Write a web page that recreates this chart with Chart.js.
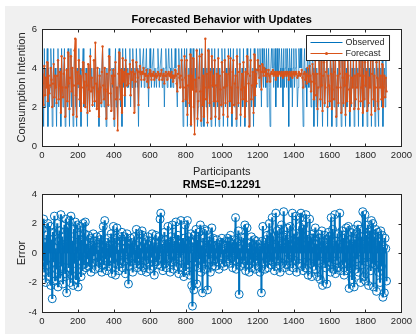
<!DOCTYPE html>
<html>
<head>
<meta charset="utf-8">
<script src="https://cdn.jsdelivr.net/npm/chart.js@4.4.1/dist/chart.umd.min.js"></script>
<style>
  html, body { margin: 0; padding: 0; background: #fff; }
  #page { position: relative; width: 416px; height: 334px; overflow: hidden; background: #fff; }
  #fig { position: absolute; left: 5px; top: 6px; right: 0; bottom: 0; background: #f0f0f0; }
  #page canvas { position: absolute; left: 0; }
  #topChart { top: 0; }
  #errChart { top: 176px; }
</style>
</head>
<body>
<div id="page">
  <div id="fig"></div>
  <canvas id="topChart" width="416" height="182"></canvas>
  <canvas id="errChart" width="416" height="158"></canvas>
</div>
<script>
// every 4th participant
const step = 4;

const observed = [
  4,3,1,5,2,4,3,5,1,4,2,3,5,4,1,3,5,2,4,3,
  1,4,5,2,3,4,1,5,3,2,4,5,1,3,4,2,5,3,1,4,
  5,2,4,1,3,5,4,2,1,4,3,5,2,4,1,3,4,5,2,3,
  2,4,3,1,4,3,2,5,3,4,2,3,4,2,5,3,2,4,3,1,
  4,3,2,4,5,3,2,4,3,1,4,3,2,5,4,3,2,4,3,4,
  1,4,5,2,3,1,4,5,3,2,4,1,5,3,4,2,5,4,3,4,
  3,4,5,2,4,3,5,4,2,4,3,5,4,3,1,4,5,4,3,4,
  4,5,3,4,4,5,3,4,2,4,5,4,3,4,4,5,3,4,4,3,
  4,5,4,3,4,4,5,3,4,4,2,4,5,4,3,4,5,4,4,3,
  5,4,3,4,4,5,4,3,2,4,5,4,3,4,5,4,1,3,5,4,
  2,5,1,3,4,2,5,1,4,3,5,2,1,4,3,5,1,2,4,5,
  3,1,5,2,4,1,3,5,2,4,1,5,3,2,4,1,5,3,4,2,
  5,1,3,4,2,5,1,4,3,2,5,4,1,3,5,2,4,3,1,5,
  4,2,5,3,1,4,5,2,3,4,1,5,3,2,4,5,1,3,4,2,
  5,3,1,4,2,5,4,3,1,4,5,2,3,4,1,5,2,4,3,4,
  5,4,3,5,4,2,5,4,3,5,4,3,5,2,4,5,3,1,4,5,
  4,5,3,4,5,2,4,5,3,4,5,4,3,5,4,2,5,3,4,5,
  3,5,4,1,5,4,3,5,2,4,5,3,4,5,4,2,3,5,4,5,
  4,5,3,1,4,5,3,4,2,5,4,3,5,4,2,3,5,4,1,3,
  5,2,4,1,3,5,4,2,5,3,1,4,5,2,3,4,5,1,4,3,
  2,5,4,1,3,5,2,4,5,1,3,4,2,5,4,3,1,5,4,2,
  5,3,1,4,2,5,4,3,1,5,2,4,3,5,1,4,2,5,3,4,
  1,5,4,2,3,5,1,4,2,5,3,4,1,5,2,4,3,5,1,4,
  5,2,4,1,3,5,4,2,1,5,3,4,2,5,1,3,4,2,5,3
];

const forecast = [
  3.7,3.2,2.1,4.1,2.6,3.5,3.0,4.3,2.3,3.6,2.7,3.1,4.0,3.4,2.0,3.2,4.2,2.5,3.6,3.0,
  2.2,3.6,4.4,2.4,3.1,3.8,1.7,4.6,3.0,2.5,3.7,4.5,1.5,3.0,3.9,2.3,4.8,3.2,1.9,3.5,
  4.6,2.8,4.0,1.6,3.1,4.9,5.5,2.6,1.5,3.8,3.2,4.4,2.4,3.6,1.8,3.0,3.9,4.3,2.2,3.3,
  2.0,3.7,3.1,1.7,4.2,2.9,1.8,4.6,2.8,3.5,2.1,3.0,4.4,2.3,5.3,3.2,1.9,4.0,2.8,1.5,
  3.6,3.0,2.2,3.8,5.1,3.1,2.4,4.0,2.9,1.4,3.7,2.8,2.1,4.6,3.9,2.7,1.8,3.6,3.2,3.9,
  1.4,3.6,4.3,2.4,3.0,0.8,3.7,4.8,3.2,2.4,3.9,1.7,4.5,3.3,3.8,2.6,4.4,3.9,3.1,3.7,
  3.2,3.7,4.2,2.6,3.8,3.4,4.4,3.8,1.7,3.7,3.3,4.3,3.9,3.5,2.1,3.8,4.1,3.7,3.4,3.8,
  3.7,4.0,3.4,3.7,3.6,3.9,3.3,3.6,3.0,3.7,3.9,3.6,3.4,3.7,3.6,3.8,3.4,3.6,3.7,3.5,
  3.6,3.8,3.7,3.4,3.6,3.7,3.9,3.4,3.6,3.7,3.2,3.6,3.8,3.6,3.4,3.7,3.8,3.6,3.7,3.5,
  3.8,3.6,3.3,3.6,3.5,3.9,3.6,3.2,2.8,3.7,4.1,3.5,3.0,3.6,4.4,3.4,2.3,3.0,4.6,3.5,
  2.4,4.4,1.6,3.1,3.6,2.2,4.7,1.1,3.6,2.9,4.5,2.0,0.6,3.4,2.8,4.9,1.4,2.3,3.5,4.6,
  2.8,1.3,4.7,2.1,3.6,1.5,3.0,5.5,2.4,3.7,1.2,4.9,3.0,2.2,3.8,1.4,4.6,3.1,3.6,2.3,
  4.4,1.5,3.1,3.7,2.3,4.5,1.4,3.6,2.9,2.1,4.3,3.8,1.6,3.0,4.4,2.2,3.7,3.1,1.5,4.6,
  3.7,2.3,4.5,3.0,1.7,3.8,4.4,2.1,3.2,3.6,1.4,4.6,3.0,2.2,3.8,4.2,1.6,2.9,3.7,2.4,
  4.3,3.0,1.5,3.8,2.3,4.6,3.7,3.2,1.0,3.6,4.4,2.4,3.1,3.8,1.7,4.7,2.6,3.7,3.2,3.9,
  4.4,3.9,3.5,4.1,3.8,2.9,4.2,3.8,3.6,4.0,3.8,3.6,3.9,3.3,3.7,3.9,3.6,3.3,3.7,3.8,
  3.7,3.9,3.6,3.7,3.8,3.4,3.7,3.8,3.6,3.7,3.8,3.7,3.6,3.8,3.7,3.5,3.8,3.6,3.7,3.8,
  3.6,3.8,3.7,3.4,3.8,3.7,3.6,3.8,3.5,3.7,3.8,3.6,3.7,3.8,3.7,3.5,3.6,3.8,3.7,3.6,
  3.7,3.9,3.5,3.0,3.7,3.8,3.4,3.7,3.2,4.0,3.6,3.3,4.1,3.6,2.8,3.3,4.2,3.7,2.4,3.2,
  4.4,2.6,3.7,1.9,3.0,4.5,3.7,2.4,4.6,3.1,1.8,3.6,4.3,2.2,3.0,3.8,4.5,2.0,3.6,3.1,
  2.3,4.6,3.7,1.9,2.9,4.4,2.4,3.8,4.7,1.5,3.0,3.6,2.2,4.4,3.7,3.0,1.7,4.6,3.5,2.2,
  4.5,3.1,1.6,3.7,2.3,4.4,3.6,2.9,1.8,4.6,2.2,3.5,3.0,4.4,1.9,3.6,2.4,4.5,3.0,3.7,
  1.9,4.5,3.6,2.3,3.0,4.7,1.7,3.6,2.4,4.3,3.1,3.8,1.8,4.6,2.2,3.5,3.0,4.4,1.6,3.7,
  4.4,2.4,3.6,1.8,3.0,4.3,3.5,2.3,1.9,4.5,3.0,3.6,2.4,4.2,2.0,3.0,3.6,2.5,3.5,2.8
];

const errors = [
  1.6,-0.5,2.3,-1.3,0.7,-2.0,1.2,-0.8,2.0,-1.6,0.4,1.8,-2.2,0.9,-3.1,1.4,-0.6,2.5,-1.9,0.3,
  -1.1,2.0,-2.3,0.8,1.5,-1.7,2.6,-0.9,1.1,-2.1,0.5,1.9,-1.4,2.3,-2.7,0.6,1.7,-1.0,2.2,-2.0,
  2.5,-1.5,0.8,-2.2,1.6,-0.7,2.1,-1.8,0.4,1.9,-2.3,1.2,-0.5,1.8,-1.6,0.9,-1.2,2.0,-0.8,1.3,
  2.1,-1.0,0.6,-0.4,1.2,-0.9,0.3,1.0,-1.3,0.5,-0.7,1.3,-0.2,0.8,-1.1,0.4,1.1,-0.6,0.2,-1.0,
  0.9,-0.5,1.2,-1.3,0.4,1.8,-0.8,2.2,-0.4,0.7,-1.2,0.3,1.0,-0.9,0.5,-0.3,1.3,-1.4,0.6,1.8,
  -0.7,1.0,-1.5,0.4,1.7,-0.8,0.2,-1.2,1.1,-0.5,0.8,1.4,-1.0,0.3,-0.6,1.1,-1.4,0.7,1.3,-0.4,
  -2.1,0.6,-0.9,1.0,-0.3,0.7,-1.3,0.4,1.1,-0.7,0.2,1.6,-1.0,0.5,-0.4,1.3,-0.8,0.3,-1.2,1.5,
  1.2,-1.0,0.6,-0.5,0.9,-1.3,0.3,1.1,-0.7,0.5,-1.1,0.8,-0.3,1.3,-0.9,0.4,-1.5,0.7,1.2,-0.6,
  0.4,-0.8,1.1,-0.4,2.3,2.7,-0.9,0.6,-1.2,0.3,1.4,-0.7,0.9,-1.0,0.5,1.8,-0.4,0.7,-1.3,1.1,
  -0.6,1.9,0.3,-1.1,0.8,-0.5,2.1,-0.9,0.4,1.2,-1.4,0.6,-0.3,2.2,-1.0,0.5,1.0,-1.6,0.7,1.9,
  -1.2,0.6,2.2,-0.8,1.1,-1.5,0.4,1.3,-2.2,-3.6,0.7,-2.5,1.2,-0.6,1.6,-2.1,0.9,-1.0,1.4,-0.4,
  1.9,-1.3,0.5,-2.7,1.0,-0.7,1.6,-1.1,0.3,1.5,-2.5,0.8,-0.4,1.1,-1.3,0.6,1.7,-0.9,1.0,-0.5,
  0.5,-0.9,0.3,0.9,-0.6,0.4,-1.1,0.7,-0.3,0.6,1.0,-0.7,0.2,-0.9,0.5,0.3,-0.6,0.8,1.0,-0.4,
  0.8,-0.7,1.2,-0.3,0.6,-1.0,0.4,0.9,-0.5,2.4,-1.1,0.7,-0.4,1.5,-2.8,0.3,-0.9,1.1,0.5,-0.7,
  1.0,-0.5,1.9,-1.2,0.4,1.7,-0.8,0.3,-1.3,0.7,-0.4,1.1,-1.0,0.5,-0.6,0.9,-1.1,0.4,0.8,-0.5,
  0.6,-0.9,0.3,-1.3,0.4,-2.7,0.8,1.8,-0.7,0.5,-1.1,0.9,-0.4,1.2,-1.0,0.6,2.0,-0.5,1.3,-0.8,
  2.4,-0.6,1.1,-1.2,0.4,2.7,-0.9,1.5,-0.5,0.8,1.6,-1.3,0.5,1.9,-0.7,1.1,2.8,-1.0,0.4,1.2,
  -0.8,1.7,-0.4,0.9,-1.2,1.8,0.5,-0.6,2.7,-1.0,1.3,-0.5,0.8,2.5,-1.3,0.4,1.1,-0.7,1.8,2.4,
  2.7,-0.9,1.6,-1.2,1.9,0.5,-1.0,2.6,-0.6,1.2,-1.5,0.8,2.3,-0.7,1.0,-1.6,0.4,1.3,-0.9,0.6,
  1.7,-1.1,0.6,-1.6,1.3,-0.5,1.0,-1.8,0.4,1.5,-2.2,0.8,-0.7,1.2,-1.0,0.5,-2.1,0.9,1.4,-0.6,
  1.1,-1.3,2.4,-0.7,1.6,-1.1,0.5,2.6,-1.4,0.8,-0.5,1.3,-1.0,0.6,2.7,-1.2,0.4,1.5,-0.8,1.0,
  -1.5,1.2,-0.6,1.7,-1.2,0.5,1.8,-2.4,0.9,-1.0,1.4,-1.8,0.6,1.6,-2.3,0.9,-1.1,1.3,-0.4,1.9,
  -1.3,0.7,1.6,-2.0,1.1,-0.8,2.8,-1.6,0.6,2.6,-1.9,1.2,-0.6,1.9,-2.2,0.8,1.5,-1.2,2.2,-0.7,
  2.0,-2.3,1.1,-0.8,1.6,-2.6,0.5,1.4,-1.3,0.8,-2.0,1.5,-0.9,1.2,-3.0,0.4,-2.7,1.0,0.3,-1.9
];

const topTicks = [0, 2, 4, 6];
const errTicks = [-4, -2, 0, 2, 4];
const xTicks = [0, 2000];

const blue = '#0072BD';
const orange = '#D95319';
const axisColor = '#262626';
const family = "'Liberation Sans', Arial, Helvetica, sans-serif";

function pts(arr) {
  return arr.map((y, i) => ({ x: 1 + i * step, y: y }));
}

// axes box with inward ticks, white plot area, title and legend, MATLAB style
const matlabAxes = {
  id: 'matlabAxes',
  beforeDraw(chart) {
    const { ctx, chartArea: a } = chart;
    ctx.save();
    ctx.fillStyle = '#fff';
    ctx.fillRect(a.left, a.top, a.right - a.left, a.bottom - a.top);
    ctx.restore();
  },
  afterDraw(chart, args, opts) {
    const { ctx, chartArea: a, scales } = chart;
    const L = Math.round(a.left) + 0.5, R = Math.round(a.right) + 0.5;
    const T = Math.round(a.top) + 0.5, B = Math.round(a.bottom) + 0.5;
    ctx.save();
    ctx.strokeStyle = axisColor;
    ctx.lineWidth = 1;
    ctx.beginPath();
    scales.x.ticks.forEach(t => {
      const px = Math.round(scales.x.getPixelForValue(t.value)) + 0.5;
      ctx.moveTo(px, B); ctx.lineTo(px, B - 3);
      ctx.moveTo(px, T); ctx.lineTo(px, T + 3);
    });
    scales.y.ticks.forEach(t => {
      const py = Math.round(scales.y.getPixelForValue(t.value)) + 0.5;
      ctx.moveTo(L, py); ctx.lineTo(L + 3, py);
      ctx.moveTo(R, py); ctx.lineTo(R - 3, py);
    });
    ctx.stroke();
    ctx.strokeRect(L, T, R - L, B - T);

    ctx.fillStyle = '#000';
    ctx.font = 'bold 11px ' + family;
    ctx.textAlign = 'center';
    ctx.textBaseline = 'middle';
    ctx.fillText(opts.title, (a.left + a.right) / 2, a.top - 9);

    if (opts.legend) {
      ctx.font = '9px ' + family;
      const sets = chart.data.datasets;
      const tw = Math.max(...sets.map(d => ctx.measureText(d.label).width));
      const w = 4 + 32 + 3 + tw + 5, h = 25;
      const x0 = Math.round(a.right - 12 - w) + 0.5, y0 = Math.round(a.top + 6) + 0.5;
      ctx.fillStyle = '#fff';
      ctx.fillRect(x0, y0, w, h);
      ctx.strokeStyle = axisColor;
      ctx.strokeRect(x0, y0, w, h);
      sets.forEach((d, i) => {
        const yy = y0 + 7 + i * 11;
        ctx.strokeStyle = d.borderColor;
        ctx.lineWidth = 1;
        ctx.beginPath();
        ctx.moveTo(x0 + 4, yy); ctx.lineTo(x0 + 36, yy);
        ctx.stroke();
        if (d.pointRadius > 0) {
          ctx.fillStyle = d.borderColor;
          ctx.beginPath();
          ctx.arc(x0 + 20, yy, 1.5, 0, Math.PI * 2);
          ctx.fill();
        }
        ctx.fillStyle = axisColor;
        ctx.textAlign = 'left';
        ctx.fillText(d.label, x0 + 39, yy + 0.5);
      });
    }
    ctx.restore();
  }
};

function xScale(withTitle, height) {
  return {
    type: 'linear', min: xTicks[0], max: xTicks[1], offset: false,
    grid: { display: false, drawTicks: false }, border: { display: false },
    ticks: { stepSize: 200, padding: 4, color: axisColor, font: { family: family, size: 9.5 },
             maxRotation: 0, autoSkip: false, callback: v => String(v) },
    title: { display: withTitle, text: 'Participants', color: axisColor, font: { family: family, size: 11 }, padding: { top: 0, bottom: 3 } },
    afterFit: s => { s.height = height; }
  };
}

function yScale(ticks, label) {
  return {
    type: 'linear', min: ticks[0], max: ticks[ticks.length - 1],
    grid: { display: false, drawTicks: false }, border: { display: false },
    ticks: { stepSize: 2, padding: 5, color: axisColor, font: { family: family, size: 9.5 }, callback: v => String(v) },
    title: { display: true, text: label, color: axisColor, font: { family: family, size: 11 }, padding: { top: 15, bottom: 0 } },
    afterFit: s => { s.width = 42; }
  };
}

Chart.defaults.animation = false;

new Chart(document.getElementById('topChart'), {
  type: 'line',
  data: {
    datasets: [
      { label: 'Observed', data: pts(observed), borderColor: blue, borderWidth: 0.7, pointRadius: 0, tension: 0, order: 2 },
      { label: 'Forecast', data: pts(forecast), borderColor: orange, backgroundColor: orange, borderWidth: 1,
        pointRadius: 1.2, pointBorderWidth: 0, pointBackgroundColor: orange, tension: 0, order: 1 }
    ]
  },
  options: {
    responsive: false,
    devicePixelRatio: 1,
    layout: { padding: { left: 0, top: 29, right: 13, bottom: 0 } },
    scales: { x: xScale(true, 36), y: yScale(topTicks, 'Consumption Intention') },
    plugins: {
      legend: { display: false }, tooltip: { enabled: false },
      matlabAxes: { title: 'Forecasted Behavior with Updates', legend: true }
    }
  },
  plugins: [matlabAxes]
});

const errPts = pts(errors);
new Chart(document.getElementById('errChart'), {
  type: 'scatter',
  data: {
    datasets: [
      { type: 'scatter', label: 'Error', data: errPts, borderColor: blue, backgroundColor: 'rgba(0,0,0,0)',
        pointRadius: 4, borderWidth: 1, order: 1 },
      { type: 'bar', label: 'Stem', data: errPts, backgroundColor: blue, barThickness: 1.5, order: 2 }
    ]
  },
  options: {
    responsive: false,
    devicePixelRatio: 1,
    layout: { padding: { left: 0, top: 18, right: 13, bottom: 0 } },
    scales: { x: xScale(false, 22), y: yScale(errTicks, 'Error') },
    plugins: {
      legend: { display: false }, tooltip: { enabled: false },
      matlabAxes: { title: 'RMSE=0.12291', legend: false }
    }
  },
  plugins: [matlabAxes]
});
</script>
</body>
</html>
